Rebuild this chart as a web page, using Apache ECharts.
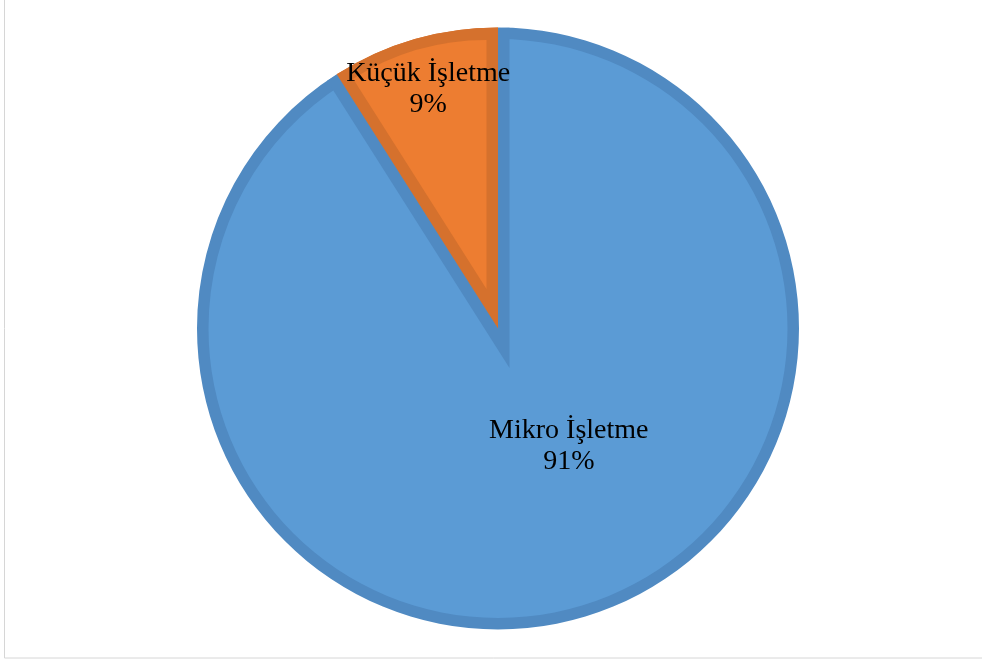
<!DOCTYPE html>
<html>
<head>
<meta charset="utf-8">
<title>İşletme Ölçeği Dağılımı</title>
<script src="https://cdn.jsdelivr.net/npm/echarts@6/dist/echarts.min.js"></script>
<style>
  html, body { margin: 0; padding: 0; background: #ffffff; }
  #chart { width: 982px; height: 662px; }
</style>
</head>
<body>
<div id="chart"></div>
<script>
// Share of enterprises by size class (percent)
const categories = ['Mikro İşletme', 'Küçük İşletme'];
const shares = [91, 9];

// Slice colours: body fill and the darker inner rim
const fillColors = ['#5B9BD5', '#ED7D31'];
const rimColors = ['#508AC2', '#D5712D'];

// Pie geometry (pixels)
const CENTER = [498, 328.5];
const RADIUS = 301;
const RIM = 11.5;

// Label nudges from the default inside position, per slice
const LABEL_SHIFT = [[28, -30], [-27, -92]];

const total = shares.reduce((a, b) => a + b, 0);
const toRad = Math.PI / 180;

// Bisector of the small slice (pie starts at 12 o'clock, clockwise)
const smallMidDeg = 90 - (shares[0] + shares[1] / 2) / total * 360;
const ux = Math.cos(smallMidDeg * toRad);
const uy = -Math.sin(smallMidDeg * toRad);
const halfAngle = Math.PI * shares[1] / total;

// The inner rim is drawn inside each slice: the apex of an inset wedge
// moves along the bisector by rim / sin(half angle).
const apexShift = RIM / Math.sin(halfAngle);
const innerR = RADIUS - RIM;
const grownR = apexShift * Math.cos(halfAngle) + Math.sqrt(RADIUS * RADIUS - RIM * RIM);
const shrunkR = innerR - apexShift + 0.7;

const shifted = (k) => [CENTER[0] + ux * apexShift * k, CENTER[1] + uy * apexShift * k];

function pieLayer(name, center, radius, colors, z, withLabels) {
  return {
    name: name,
    type: 'pie',
    z: z,
    center: center,
    radius: radius,
    startAngle: 90,
    clockwise: true,
    silent: true,
    animation: false,
    avoidLabelOverlap: false,
    emphasis: { disabled: true },
    itemStyle: { borderWidth: 0 },
    labelLine: { show: false },
    label: withLabels ? {
      show: true,
      position: 'inside',
      formatter: '{b}\n{d}%',
      fontFamily: '"Liberation Serif", "Times New Roman", serif',
      fontSize: 28,
      lineHeight: 31,
      color: '#000000'
    } : { show: false },
    labelLayout: withLabels ? function (p) {
      return { dx: LABEL_SHIFT[p.dataIndex][0], dy: LABEL_SHIFT[p.dataIndex][1] };
    } : undefined,
    data: categories.map((c, i) => ({
      name: c,
      value: shares[i],
      itemStyle: { color: colors[i] }
    }))
  };
}

const NONE = 'rgba(0,0,0,0)';

const option = {
  backgroundColor: '#ffffff',
  animation: false,
  graphic: [{
    type: 'rect',
    silent: true,
    z: -10,
    shape: { x: 4.5, y: -20, width: 1000, height: 678 },
    style: { fill: 'none', stroke: '#D6D6D6', lineWidth: 1 }
  }],
  series: [
    // full pie in rim colours
    pieLayer('rim', CENTER, RADIUS, rimColors, 1, false),
    // large slice body
    pieLayer('bodyLarge', CENTER, innerR, [fillColors[0], NONE], 2, false),
    // rim of the large slice along the small slice's edges
    pieLayer('edgeLarge', shifted(-1), grownR, [NONE, rimColors[0]], 3, false),
    // small slice rim
    pieLayer('rimSmall', CENTER, RADIUS, [NONE, rimColors[1]], 4, false),
    // small slice body
    pieLayer('bodySmall', shifted(1), shrunkR, [NONE, fillColors[1]], 5, false),
    // labels
    pieLayer('labels', CENTER, RADIUS, [NONE, NONE], 6, true)
  ]
};

const chart = echarts.init(document.getElementById('chart'), null, { renderer: 'canvas' });
chart.setOption(option);
</script>
</body>
</html>
